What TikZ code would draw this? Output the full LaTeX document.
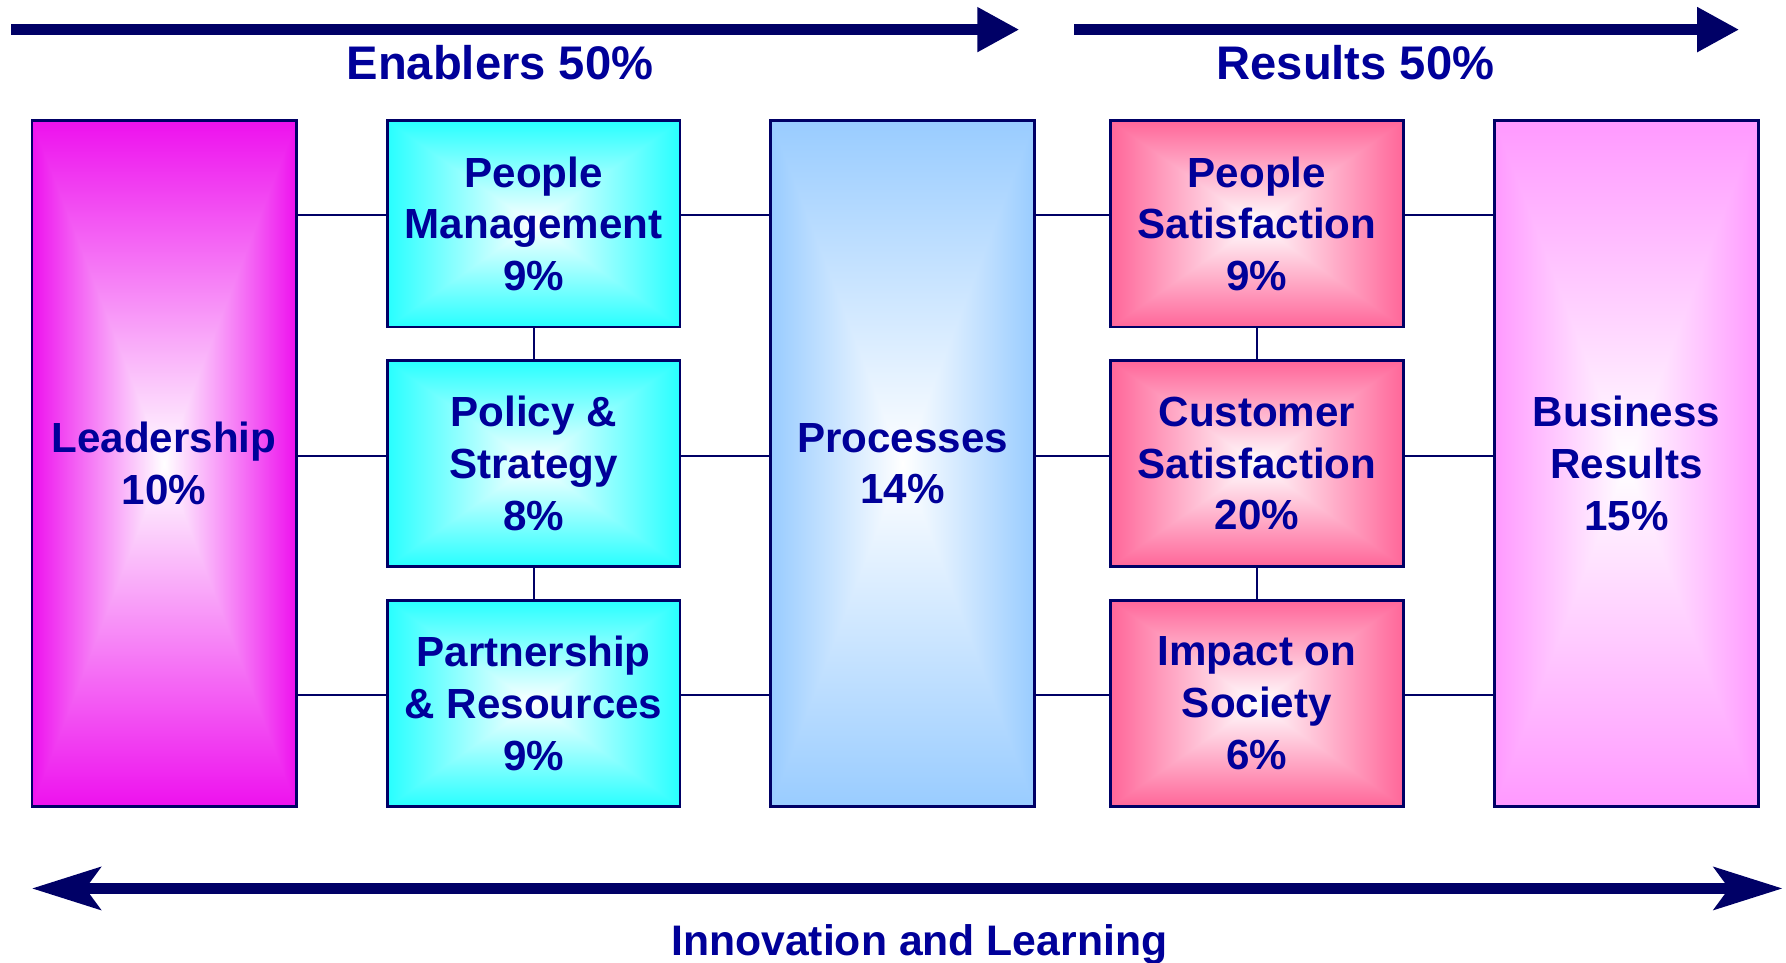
\documentclass[tikz,border=0pt]{standalone}
\usepackage{fontspec}
\setmainfont{Liberation Sans}
\usetikzlibrary{arrows.meta}
\definecolor{navy}{RGB}{0,0,102}
\definecolor{txtblue}{RGB}{0,0,153}
\definecolor{cMag}{RGB}{238,17,238}
\definecolor{cCyan}{RGB}{40,255,255}
\definecolor{cSky}{RGB}{153,204,255}
\definecolor{cPink}{RGB}{255,102,153}
\definecolor{cLilac}{RGB}{255,153,255}
\newcommand{\gradbox}[5]{%
  \shade[left color=#5, right color=white] (#1,#2) rectangle ({(#1+#3)/2},#4);
  \shade[left color=white, right color=#5] ({(#1+#3)/2},#2) rectangle (#3,#4);
  \begin{scope}
    \clip (#1,#2) -- (#3,#2) -- ({(#1+#3)/2},{(#2+#4)/2}) -- cycle;
    \shade[top color=#5, bottom color=white] (#1,#2) rectangle (#3,{(#2+#4)/2});
  \end{scope}
  \begin{scope}
    \clip (#1,#4) -- (#3,#4) -- ({(#1+#3)/2},{(#2+#4)/2}) -- cycle;
    \shade[top color=white, bottom color=#5] (#1,{(#2+#4)/2}) rectangle (#3,#4);
  \end{scope}
}
\tikzset{
  box/.style={draw=navy, line width=1.2pt, inner sep=0pt, align=center,
    text=txtblue, font=\fontsize{18.5}{22.75}\selectfont\bfseries},
  tall/.style={box, minimum width=116pt, minimum height=301pt},
  small/.style={box, minimum width=128.5pt, minimum height=90.5pt},
  conn/.style={draw=navy, line width=0.9pt},
  hdr/.style={text=txtblue, font=\fontsize{20.7}{24}\selectfont\bfseries, inner sep=0pt, anchor=base},
  ftr/.style={text=txtblue, font=\fontsize{18.75}{22}\selectfont\bfseries, inner sep=0pt, anchor=base},
  bigarrow/.style={draw=navy, line width=4.75pt, -{Triangle[length=18.5pt,width=18.5pt]}},
  dblarrow/.style={draw=navy, line width=5pt,
    {Stealth[length=30pt,width=18.5pt,inset=6.5pt]}-{Stealth[length=30pt,width=18.5pt,inset=6.5pt]}}
}
\begin{document}
\begin{tikzpicture}[x=0.5pt, y=-0.5pt]
\fill[white] (0,0) rectangle (1568,845);
\useasboundingbox (0,0) rectangle (1568,845);

% shaded backgrounds
\gradbox{28}{106}{260}{708}{cMag}
\gradbox{340}{106}{597}{287}{cCyan}
\gradbox{340}{317}{597}{497}{cCyan}
\gradbox{340}{527}{597}{708}{cCyan}
\gradbox{677}{106}{908}{708}{cSky}
\gradbox{975}{106}{1232}{287}{cPink}
\gradbox{975}{317}{1232}{497}{cPink}
\gradbox{975}{527}{1232}{708}{cPink}
\gradbox{1312}{106}{1544}{708}{cLilac}

% nodes
\node[tall] (lead) at (144,407) {Leadership\\10\%};
\node[small] (pm) at (468.5,196.5) {People\\Management\\9\%};
\node[small] (ps) at (468.5,407) {Policy \&\\Strategy\\8\%};
\node[small] (pr) at (468.5,617.5) {Partnership\\\& Resources\\9\%};
\node[tall] (proc) at (792.5,407) {Processes\\14\%};
\node[small] (psat) at (1103.5,196.5) {People\\Satisfaction\\9\%};
\node[small] (csat) at (1103.5,407) {Customer\\Satisfaction\\20\%};
\node[small] (imp) at (1103.5,617.5) {Impact on\\Society\\6\%};
\node[tall] (bus) at (1428,407) {Business\\Results\\15\%};

% connector rows
\coordinate (r1) at (0,189);
\coordinate (r2) at (0,400);
\coordinate (r3) at (0,610);
\foreach \r/\a/\b in {r1/lead/pm, r2/lead/ps, r3/lead/pr,
                      r1/pm/proc, r2/ps/proc, r3/pr/proc,
                      r1/proc/psat, r2/proc/csat, r3/proc/imp,
                      r1/psat/bus, r2/csat/bus, r3/imp/bus}
  \draw[conn] (\a.east |- \r) -- (\b.west |- \r);
\draw[conn] (pm) -- (ps);
\draw[conn] (ps) -- (pr);
\draw[conn] (psat) -- (csat);
\draw[conn] (csat) -- (imp);

% arrows
\coordinate (a1s) at (10,26);
\coordinate (a1e) at (895,26);
\coordinate (a2s) at (943,26);
\coordinate (a2e) at (1527,26);
\coordinate (a3s) at (28,780);
\coordinate (a3e) at (1565,780);
\draw[bigarrow] (a1s) -- (a1e);
\draw[bigarrow] (a2s) -- (a2e);
\draw[dblarrow] (a3s) -- (a3e);

% labels
\node[hdr] (en) at (439,70) {Enablers 50\%};
\node[hdr] (res) at (1190,70) {Results 50\%};
\node[ftr] (inn) at (807,839) {Innovation and Learning};
\end{tikzpicture}
\end{document}
